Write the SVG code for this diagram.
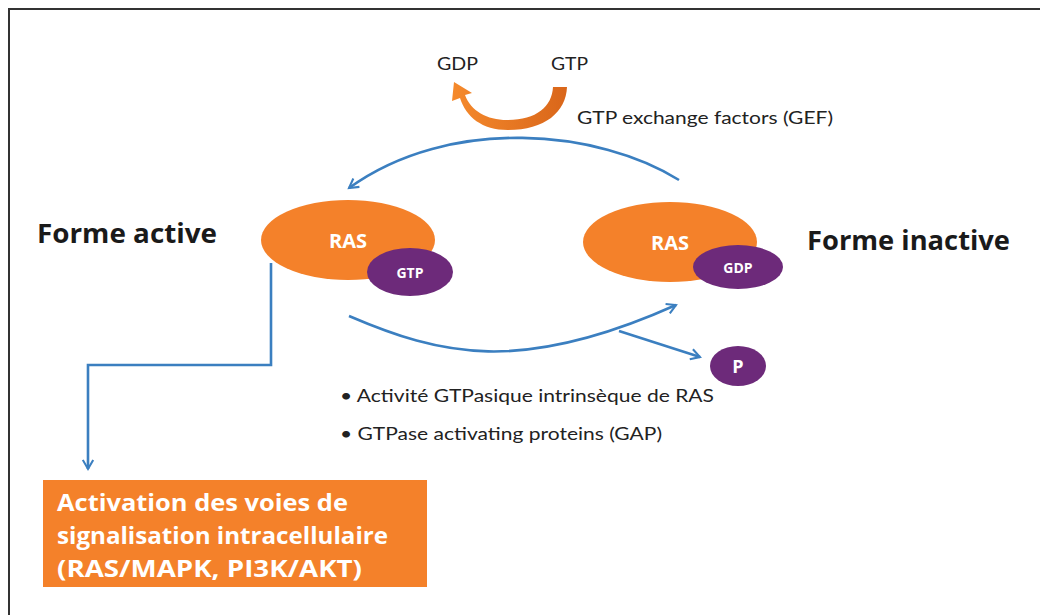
<svg xmlns="http://www.w3.org/2000/svg" width="1040" height="615" viewBox="0 0 1040 615">
<defs>
<style>
.lbl{font-family:Lato,"Open Sans",sans-serif;font-size:18px;fill:#222}
.big{font-family:"Open Sans",Lato,sans-serif;font-weight:bold;font-size:26px;fill:#1a1a1a}
.ras{fill:#f4812a}
.pur{fill:#6d2a7a}
.wt{font-family:"Open Sans",sans-serif;font-weight:bold;fill:#fff;text-anchor:middle}
.conn{fill:none;stroke:#3b7fc0;stroke-width:2.6}
.box{font-family:"Open Sans",sans-serif;font-weight:bold;font-size:23px;fill:#fff}
</style>
<marker id="ah" viewBox="0 0 10 10" refX="8" refY="5" markerWidth="5" markerHeight="5" orient="auto" markerUnits="strokeWidth">
<path d="M1,1 L8,5 L1,9" fill="none" stroke="#3b7fc0" stroke-width="1.6"/>
</marker>
<linearGradient id="og" x1="0" y1="0" x2="1" y2="0">
<stop offset="0" stop-color="#f58a2c"/>
<stop offset="1" stop-color="#d9661a"/>
</linearGradient>
</defs>
<rect width="1040" height="615" fill="#fff"/>
<path d="M9,615 V9 H1040" fill="none" stroke="#333" stroke-width="2"/>

<g id="exchange">
<text class="lbl" x="437" y="70" textLength="41" lengthAdjust="spacingAndGlyphs">GDP</text>
<text class="lbl" x="551" y="70" textLength="37" lengthAdjust="spacingAndGlyphs">GTP</text>
<path d="M553,87 L567,87 C566,112 545,130 508,130 C482,130 466,117 460,98 L452,101 L454,82 L472,93 L465,95 C471,111 487,120 507,120 C536,120 552,107 553,87 Z" fill="url(#og)"/>
<text class="lbl" x="577" y="124" textLength="256" lengthAdjust="spacingAndGlyphs">GTP exchange factors (GEF)</text>
</g>

<g id="connectors">
<path class="conn" d="M679,180 C600,130 450,115 349,188" marker-end="url(#ah)"/>
<path class="conn" d="M349,316 C440,355 520,375 676,305" marker-end="url(#ah)"/>
<path class="conn" d="M619,331 L700,357" marker-end="url(#ah)"/>
<path class="conn" d="M271,263 V365 H88 V469" marker-end="url(#ah)"/>
</g>

<g id="ras-active">
<ellipse class="ras" cx="348" cy="240" rx="87" ry="40"/>
<text class="wt" x="348" y="248" font-size="20">RAS</text>
<ellipse class="pur" cx="410" cy="272" rx="43" ry="24"/>
<text class="wt" x="410" y="278" font-size="14">GTP</text>
</g>

<g id="ras-inactive">
<ellipse class="ras" cx="670" cy="242" rx="87" ry="40"/>
<text class="wt" x="670" y="250" font-size="20">RAS</text>
<ellipse class="pur" cx="738" cy="267" rx="45" ry="22"/>
<text class="wt" x="738" y="273" font-size="14">GDP</text>
</g>

<g id="label-active"><text class="big" x="37" y="243" textLength="180" lengthAdjust="spacingAndGlyphs">Forme active</text></g>
<g id="label-inactive"><text class="big" x="807" y="250" textLength="203" lengthAdjust="spacingAndGlyphs">Forme inactive</text></g>

<g id="phosphate">
<ellipse class="pur" cx="738" cy="366" rx="28" ry="20"/>
<text class="wt" x="738" y="373" font-size="18">P</text>
</g>

<g id="gap-notes">
<text class="lbl" x="340" y="402" textLength="374" lengthAdjust="spacingAndGlyphs">• Activité GTPasique intrinsèque de RAS</text>
<text class="lbl" x="340" y="440" textLength="322" lengthAdjust="spacingAndGlyphs">• GTPase activating proteins (GAP)</text>
</g>

<g id="activation">
<rect x="43" y="480" width="384" height="107" fill="#f4812a"/>
<text class="box" x="57" y="511" textLength="291" lengthAdjust="spacingAndGlyphs">Activation des voies de</text>
<text class="box" x="57" y="544" textLength="331" lengthAdjust="spacingAndGlyphs">signalisation intracellulaire</text>
<text class="box" x="57" y="577" textLength="305" lengthAdjust="spacingAndGlyphs">(RAS/MAPK, PI3K/AKT)</text>
</g>
</svg>
